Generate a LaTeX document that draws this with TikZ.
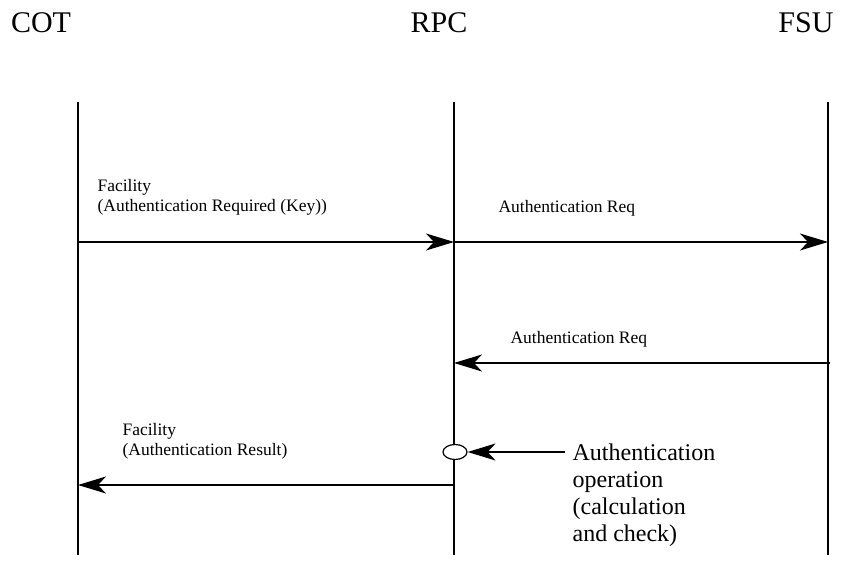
\documentclass[tikz,border=0pt]{standalone}
\usepackage{fontspec}
\setmainfont{Liberation Serif}
\usetikzlibrary{arrows.meta,shapes.geometric}

\begin{document}
\begin{tikzpicture}[x=1pt, y=-1pt, line width=1.2pt,
  lifeline/.style={line width=1.1pt},
  msg/.style={-{Stealth[length=28pt, width=17pt, inset=8pt]}},
  party/.style={font=\fontsize{30}{36}\selectfont, anchor=base, inner sep=0pt},
  lbl/.style={font=\fontsize{17.5}{20}\selectfont, align=left, anchor=base west, inner sep=0pt},
  chk/.style={draw, ellipse, fill=white, minimum width=24pt, minimum height=15pt, inner sep=0pt}]
  \useasboundingbox (0,0) rectangle (844,569);
  \node[party] (cot) at (41,33) {COT};
  \node[party] (rpc) at (439,33) {RPC};
  \node[party] (fsu) at (806,33) {FSU};
  \foreach \n/\x in {cot/78, rpc/454, fsu/828} {
    \coordinate (\n-top) at (\x,102);
    \coordinate (\n-bot) at (\x,555);
    \draw[lifeline] (\n-top) -- (\n-bot);
  }
  \coordinate (cot-1) at (78,242);
  \coordinate (rpc-1) at (454,242);
  \coordinate (fsu-1) at (828,242);
  \coordinate (fsu-2) at (830,363);
  \coordinate (rpc-2) at (454,363);
  \coordinate (rpc-3) at (454,485);
  \coordinate (cot-3) at (78,485);
  \draw[msg] (cot-1) -- (rpc-1);
  \draw[msg] (rpc-1) -- (fsu-1);
  \draw[msg] (fsu-2) -- (rpc-2);
  \draw[msg] (rpc-3) -- (cot-3);
  \node[lbl] (fac1) at (97,212) {Facility\\(Authentication Required (Key))};
  \node[lbl] (req1) at (498,213) {Authentication Req};
  \node[lbl] (req2) at (510,344) {Authentication Req};
  \node[lbl] (fac2) at (122,455) {Facility\\(Authentication Result)};
  \node[chk] (check) at (455,452) {};
  \node[lbl, font=\fontsize{24}{26.7}\selectfont] (op) at (572,541)
       {Authentication\\operation\\(calculation\\and check)};
  \coordinate (op-in) at (565,452);
  \draw[msg] (op-in) -- (check);
\end{tikzpicture}
\end{document}
